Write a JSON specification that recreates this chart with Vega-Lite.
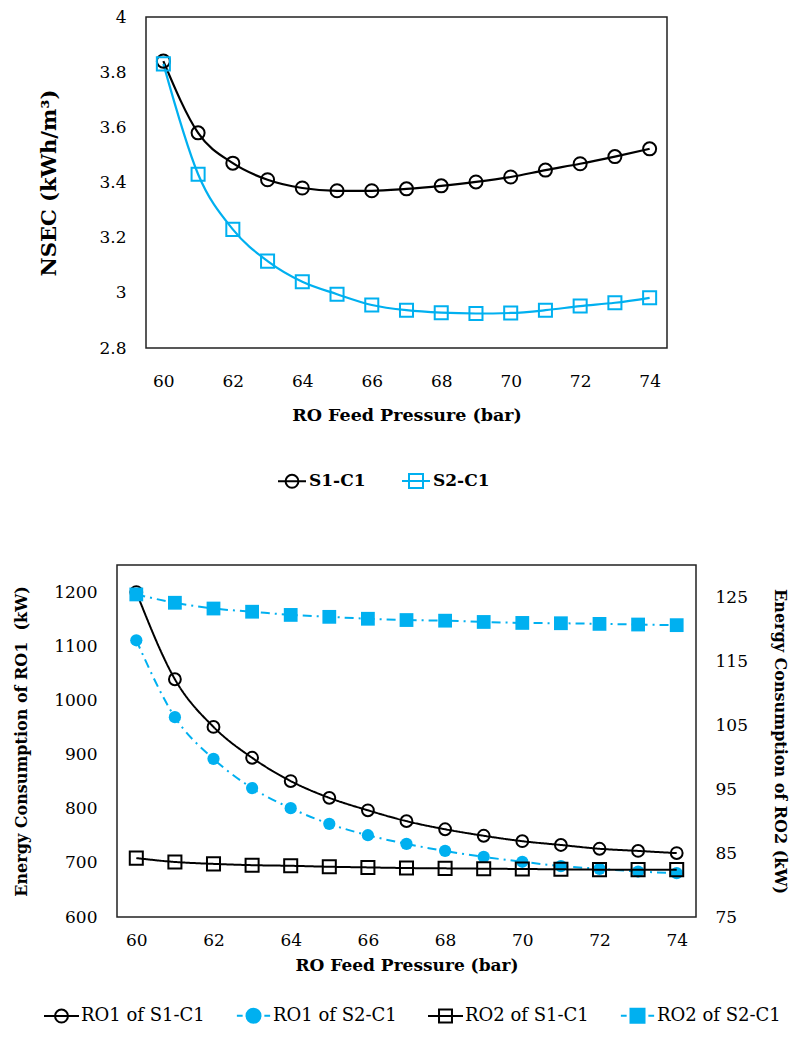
{
  "$schema": "https://vega.github.io/schema/vega-lite/v6.json",
  "padding": {"left": 12, "top": 7, "right": 2, "bottom": 2},
  "background": "white",
  "config": {
    "font": "DejaVu Serif",
    "view": {"stroke": "#222", "strokeWidth": 1.5},
    "axis": {"grid": false, "ticks": false, "domain": false, "labelFont": "DejaVu Serif", "titleFont": "DejaVu Serif", "labelFontSize": 17, "labelColor": "black", "titleFontSize": 18, "titleFontWeight": "bold", "titleColor": "black"},
    "legend": {"labelFont": "DejaVu Serif", "labelColor": "black", "padding": 0},
    "text": {"font": "DejaVu Serif"}
  },
  "datasets": {
    "top": [
      {"p": 60, "series": "S1-C1", "v": 3.84}, {"p": 61, "series": "S1-C1", "v": 3.58}, {"p": 62, "series": "S1-C1", "v": 3.47}, {"p": 63, "series": "S1-C1", "v": 3.41}, {"p": 64, "series": "S1-C1", "v": 3.38}, {"p": 65, "series": "S1-C1", "v": 3.37}, {"p": 66, "series": "S1-C1", "v": 3.37}, {"p": 67, "series": "S1-C1", "v": 3.377}, {"p": 68, "series": "S1-C1", "v": 3.388}, {"p": 69, "series": "S1-C1", "v": 3.402}, {"p": 70, "series": "S1-C1", "v": 3.42}, {"p": 71, "series": "S1-C1", "v": 3.445}, {"p": 72, "series": "S1-C1", "v": 3.468}, {"p": 73, "series": "S1-C1", "v": 3.494}, {"p": 74, "series": "S1-C1", "v": 3.522},
      {"p": 60, "series": "S2-C1", "v": 3.83}, {"p": 61, "series": "S2-C1", "v": 3.43}, {"p": 62, "series": "S2-C1", "v": 3.23}, {"p": 63, "series": "S2-C1", "v": 3.115}, {"p": 64, "series": "S2-C1", "v": 3.04}, {"p": 65, "series": "S2-C1", "v": 2.995}, {"p": 66, "series": "S2-C1", "v": 2.956}, {"p": 67, "series": "S2-C1", "v": 2.937}, {"p": 68, "series": "S2-C1", "v": 2.928}, {"p": 69, "series": "S2-C1", "v": 2.925}, {"p": 70, "series": "S2-C1", "v": 2.927}, {"p": 71, "series": "S2-C1", "v": 2.937}, {"p": 72, "series": "S2-C1", "v": 2.952}, {"p": 73, "series": "S2-C1", "v": 2.964}, {"p": 74, "series": "S2-C1", "v": 2.982}
    ],
    "bottom": [
      {"p": 60, "series": "RO1 of S1-C1", "unit": "RO1", "v": 1200}, {"p": 61, "series": "RO1 of S1-C1", "unit": "RO1", "v": 1039}, {"p": 62, "series": "RO1 of S1-C1", "unit": "RO1", "v": 951}, {"p": 63, "series": "RO1 of S1-C1", "unit": "RO1", "v": 894}, {"p": 64, "series": "RO1 of S1-C1", "unit": "RO1", "v": 851}, {"p": 65, "series": "RO1 of S1-C1", "unit": "RO1", "v": 820}, {"p": 66, "series": "RO1 of S1-C1", "unit": "RO1", "v": 797}, {"p": 67, "series": "RO1 of S1-C1", "unit": "RO1", "v": 777}, {"p": 68, "series": "RO1 of S1-C1", "unit": "RO1", "v": 762}, {"p": 69, "series": "RO1 of S1-C1", "unit": "RO1", "v": 750}, {"p": 70, "series": "RO1 of S1-C1", "unit": "RO1", "v": 740}, {"p": 71, "series": "RO1 of S1-C1", "unit": "RO1", "v": 733}, {"p": 72, "series": "RO1 of S1-C1", "unit": "RO1", "v": 726}, {"p": 73, "series": "RO1 of S1-C1", "unit": "RO1", "v": 722}, {"p": 74, "series": "RO1 of S1-C1", "unit": "RO1", "v": 718},
      {"p": 60, "series": "RO1 of S2-C1", "unit": "RO1", "v": 1111}, {"p": 61, "series": "RO1 of S2-C1", "unit": "RO1", "v": 969}, {"p": 62, "series": "RO1 of S2-C1", "unit": "RO1", "v": 892}, {"p": 63, "series": "RO1 of S2-C1", "unit": "RO1", "v": 838}, {"p": 64, "series": "RO1 of S2-C1", "unit": "RO1", "v": 801}, {"p": 65, "series": "RO1 of S2-C1", "unit": "RO1", "v": 772}, {"p": 66, "series": "RO1 of S2-C1", "unit": "RO1", "v": 751}, {"p": 67, "series": "RO1 of S2-C1", "unit": "RO1", "v": 735}, {"p": 68, "series": "RO1 of S2-C1", "unit": "RO1", "v": 722}, {"p": 69, "series": "RO1 of S2-C1", "unit": "RO1", "v": 711}, {"p": 70, "series": "RO1 of S2-C1", "unit": "RO1", "v": 702}, {"p": 71, "series": "RO1 of S2-C1", "unit": "RO1", "v": 694}, {"p": 72, "series": "RO1 of S2-C1", "unit": "RO1", "v": 689}, {"p": 73, "series": "RO1 of S2-C1", "unit": "RO1", "v": 684}, {"p": 74, "series": "RO1 of S2-C1", "unit": "RO1", "v": 681},
      {"p": 60, "series": "RO2 of S1-C1", "unit": "RO2", "v": 84.2}, {"p": 61, "series": "RO2 of S1-C1", "unit": "RO2", "v": 83.6}, {"p": 62, "series": "RO2 of S1-C1", "unit": "RO2", "v": 83.3}, {"p": 63, "series": "RO2 of S1-C1", "unit": "RO2", "v": 83.1}, {"p": 64, "series": "RO2 of S1-C1", "unit": "RO2", "v": 83.0}, {"p": 65, "series": "RO2 of S1-C1", "unit": "RO2", "v": 82.85}, {"p": 66, "series": "RO2 of S1-C1", "unit": "RO2", "v": 82.75}, {"p": 67, "series": "RO2 of S1-C1", "unit": "RO2", "v": 82.65}, {"p": 68, "series": "RO2 of S1-C1", "unit": "RO2", "v": 82.6}, {"p": 69, "series": "RO2 of S1-C1", "unit": "RO2", "v": 82.55}, {"p": 70, "series": "RO2 of S1-C1", "unit": "RO2", "v": 82.5}, {"p": 71, "series": "RO2 of S1-C1", "unit": "RO2", "v": 82.45}, {"p": 72, "series": "RO2 of S1-C1", "unit": "RO2", "v": 82.4}, {"p": 73, "series": "RO2 of S1-C1", "unit": "RO2", "v": 82.4}, {"p": 74, "series": "RO2 of S1-C1", "unit": "RO2", "v": 82.4},
      {"p": 60, "series": "RO2 of S2-C1", "unit": "RO2", "v": 125.4}, {"p": 61, "series": "RO2 of S2-C1", "unit": "RO2", "v": 124.1}, {"p": 62, "series": "RO2 of S2-C1", "unit": "RO2", "v": 123.2}, {"p": 63, "series": "RO2 of S2-C1", "unit": "RO2", "v": 122.7}, {"p": 64, "series": "RO2 of S2-C1", "unit": "RO2", "v": 122.2}, {"p": 65, "series": "RO2 of S2-C1", "unit": "RO2", "v": 121.9}, {"p": 66, "series": "RO2 of S2-C1", "unit": "RO2", "v": 121.6}, {"p": 67, "series": "RO2 of S2-C1", "unit": "RO2", "v": 121.4}, {"p": 68, "series": "RO2 of S2-C1", "unit": "RO2", "v": 121.3}, {"p": 69, "series": "RO2 of S2-C1", "unit": "RO2", "v": 121.1}, {"p": 70, "series": "RO2 of S2-C1", "unit": "RO2", "v": 120.95}, {"p": 71, "series": "RO2 of S2-C1", "unit": "RO2", "v": 120.9}, {"p": 72, "series": "RO2 of S2-C1", "unit": "RO2", "v": 120.8}, {"p": 73, "series": "RO2 of S2-C1", "unit": "RO2", "v": 120.7}, {"p": 74, "series": "RO2 of S2-C1", "unit": "RO2", "v": 120.6}
    ]
  },
  "spacing": 196,
  "bounds": "flush",
  "center": true,
  "align": "all",
  "resolve": {"scale": {"color": "independent", "x": "independent", "y": "independent"}, "legend": {"color": "independent"}},
  "vconcat": [
    {
      "width": 521,
      "height": 331,
      "data": {"name": "top"},
      "encoding": {
        "x": {"field": "p", "type": "quantitative", "scale": {"domain": [59.5, 74.5], "nice": false, "zero": false}, "axis": {"values": [60, 62, 64, 66, 68, 70, 72, 74], "title": "RO Feed Pressure (bar)", "titleFontSize": 17.5, "labelPadding": 25, "titlePadding": 17}},
        "y": {"field": "v", "type": "quantitative", "scale": {"domain": [2.8, 4], "nice": false, "zero": false}, "axis": {"values": [2.8, 3, 3.2, 3.4, 3.6, 3.8, 4], "labelExpr": "'' + datum.value", "title": "NSEC (kWh/m³)", "titleFontSize": 21, "labelPadding": 20, "titlePadding": 39}},
        "color": {"field": "series", "type": "nominal", "scale": {"domain": ["S1-C1", "S2-C1"], "range": ["black", "#00B0F0"]},
          "legend": {"orient": "none", "legendX": 131, "legendY": 449, "direction": "horizontal", "columns": 2, "title": null, "symbolSize": 784, "symbolStrokeWidth": 2, "labelFontSize": 17, "labelFontWeight": "bold", "labelOffset": 2, "columnPadding": 32,
            "encode": {"symbols": {"update": {
              "shape": {"signal": "datum.value === 'S1-C1' ? 'M-1,0H1M0.46,0A0.46,0.46,0,1,1,-0.46,0A0.46,0.46,0,1,1,0.46,0' : 'M-1,0H1M-0.5,-0.5H0.5V0.5H-0.5Z'"},
              "stroke": {"signal": "datum.value === 'S1-C1' ? 'black' : '#00B0F0'"},
              "fill": {"value": "transparent"},
              "strokeWidth": {"value": 2},
              "opacity": {"value": 1}
            }}}}}
      },
      "layer": [
        {"mark": {"type": "line", "interpolate": "monotone", "strokeWidth": 2.2}},
        {"mark": {"type": "point", "filled": false, "strokeWidth": 2, "opacity": 1, "size": 170},
          "encoding": {"shape": {"field": "series", "type": "nominal", "scale": {"domain": ["S1-C1", "S2-C1"], "range": ["circle", "square"]}, "legend": null}}},
        {"data": {"values": [{"label": "(d)"}]},
          "mark": {"type": "text", "align": "right", "baseline": "middle", "fontWeight": "bold", "fontSize": 18},
          "encoding": {"x": {"datum": 74.27}, "y": {"datum": 3.924}, "text": {"field": "label"}, "color": {"value": "black"}}}
      ]
    },
    {
      "width": 579,
      "height": 352,
      "data": {"name": "bottom"},
      "encoding": {
        "x": {"field": "p", "type": "quantitative", "scale": {"domain": [59.5, 74.5], "nice": false, "zero": false}, "axis": {"values": [60, 62, 64, 66, 68, 70, 72, 74], "title": "RO Feed Pressure (bar)", "titleFontSize": 17, "labelPadding": 15, "titlePadding": 9}},
        "color": {"field": "series", "type": "nominal", "scale": {"domain": ["RO1 of S1-C1", "RO1 of S2-C1", "RO2 of S1-C1", "RO2 of S2-C1"], "range": ["black", "#00B0F0", "black", "#00B0F0"]},
          "legend": {"orient": "none", "legendX": -74, "legendY": 432, "direction": "horizontal", "columns": 4, "title": null, "symbolSize": 1225, "symbolStrokeWidth": 2, "labelFontSize": 18, "labelOffset": 1, "columnPadding": 27,
            "encode": {"symbols": {"update": {
              "shape": {"signal": "datum.value === 'RO1 of S1-C1' ? 'M-1,0H1M0.37,0A0.37,0.37,0,1,1,-0.37,0A0.37,0.37,0,1,1,0.37,0' : datum.value === 'RO1 of S2-C1' ? 'M-0.95,0H-0.62M0.62,0H0.95M0.4,0A0.4,0.4,0,1,1,-0.4,0A0.4,0.4,0,1,1,0.4,0' : datum.value === 'RO2 of S1-C1' ? 'M-1,0H1M-0.37,-0.37H0.37V0.37H-0.37Z' : 'M-0.95,0H-0.62M0.62,0H0.95M-0.4,-0.4H0.4V0.4H-0.4Z'"},
              "stroke": {"signal": "indexof(datum.value, 'S2') >= 0 ? '#00B0F0' : 'black'"},
              "fill": {"signal": "indexof(datum.value, 'S2') >= 0 ? '#00B0F0' : 'transparent'"},
              "fillOpacity": {"signal": "indexof(datum.value, 'S2') >= 0 ? 1 : 0"},
              "strokeWidth": {"value": 2},
              "opacity": {"value": 1}
            }}}}}
      },
      "layer": [
        {
          "encoding": {"y": {"field": "v", "type": "quantitative", "scale": {"domain": [600, 1250], "nice": false, "zero": false}, "axis": {"orient": "left", "values": [600, 700, 800, 900, 1000, 1100, 1200], "format": "d", "title": "Energy Consumption of RO1\u00a0 (kW)", "titleFontSize": 16, "labelPadding": 20, "titlePadding": 24}}},
          "layer": [
            {"transform": [{"filter": "datum.unit == 'RO1'"}],
              "mark": {"type": "line", "interpolate": "monotone", "strokeWidth": 2},
              "encoding": {"strokeDash": {"field": "series", "type": "nominal", "scale": {"domain": ["RO1 of S1-C1", "RO1 of S2-C1", "RO2 of S1-C1", "RO2 of S2-C1"], "range": [[1, 0], [9, 5, 2, 5], [1, 0], [9, 5, 2, 5]]}, "legend": null}}},
            {"transform": [{"filter": "datum.series == 'RO1 of S1-C1'"}],
              "mark": {"type": "point", "shape": "circle", "filled": false, "strokeWidth": 2, "opacity": 1, "size": 140}},
            {"transform": [{"filter": "datum.series == 'RO1 of S2-C1'"}],
              "mark": {"type": "point", "shape": "circle", "filled": true, "opacity": 1, "size": 150}},
            {"data": {"values": [{"label": "(e)"}]},
              "mark": {"type": "text", "align": "right", "baseline": "middle", "fontWeight": "bold", "fontSize": 18},
              "encoding": {"x": {"datum": 74.34}, "y": {"datum": 1224}, "text": {"field": "label"}, "color": {"value": "black"}}}
          ]
        },
        {
          "encoding": {"y": {"field": "v", "type": "quantitative", "scale": {"domain": [75, 130], "nice": false, "zero": false}, "axis": {"orient": "right", "values": [75, 85, 95, 105, 115, 125], "title": "Energy Consumption of RO2 (kW)", "titleFontSize": 16, "labelPadding": 19, "titlePadding": 24}}},
          "layer": [
            {"transform": [{"filter": "datum.unit == 'RO2'"}],
              "mark": {"type": "line", "interpolate": "monotone", "strokeWidth": 2},
              "encoding": {"strokeDash": {"field": "series", "type": "nominal", "scale": {"domain": ["RO1 of S1-C1", "RO1 of S2-C1", "RO2 of S1-C1", "RO2 of S2-C1"], "range": [[1, 0], [9, 5, 2, 5], [1, 0], [9, 5, 2, 5]]}, "legend": null}}},
            {"transform": [{"filter": "datum.series == 'RO2 of S1-C1'"}],
              "mark": {"type": "point", "shape": "square", "filled": false, "strokeWidth": 2, "opacity": 1, "size": 170}},
            {"transform": [{"filter": "datum.series == 'RO2 of S2-C1'"}],
              "mark": {"type": "point", "shape": "square", "filled": true, "opacity": 1, "size": 190}}
          ]
        }
      ],
      "resolve": {"scale": {"y": "independent"}}
    }
  ]
}
